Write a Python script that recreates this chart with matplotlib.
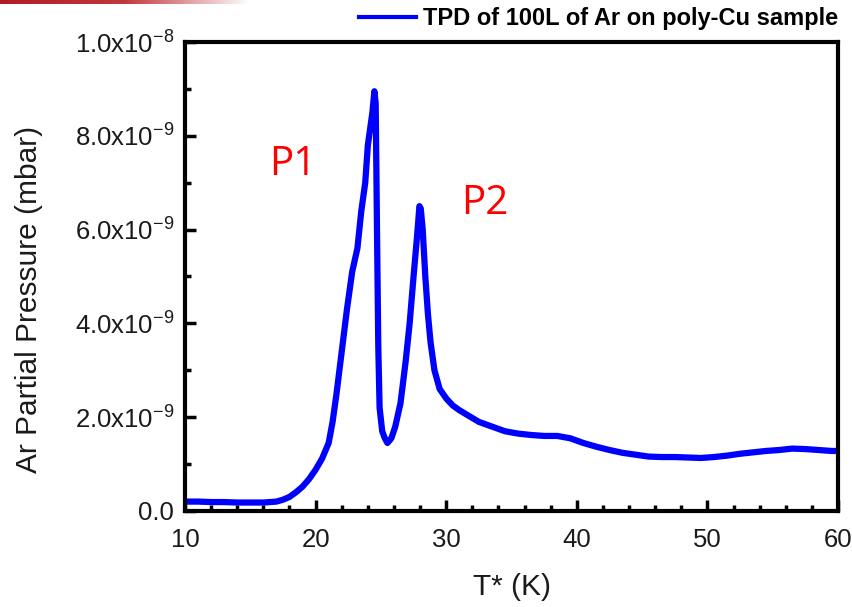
import numpy as np
import matplotlib
matplotlib.use("Agg")
import matplotlib.pyplot as plt
from matplotlib.ticker import FuncFormatter, MultipleLocator
from matplotlib.lines import Line2D

plt.rcParams['font.family'] = ['Liberation Sans', 'DejaVu Sans']
plt.rcParams['mathtext.default'] = 'regular'

# temperature (K) and Ar partial pressure (units of 1e-9 mbar)
temperature = [10, 11, 12, 13, 14, 15, 16, 17, 17.5, 18, 18.5, 19, 19.5, 20, 20.5,
               21, 21.3, 21.6, 22, 22.4, 22.8, 23.2, 23.5, 23.8, 24.0, 24.2, 24.35,
               24.5, 24.6, 24.7, 24.8, 24.9, 25.1, 25.3, 25.5, 25.8, 26.1, 26.5,
               26.9, 27.2, 27.5, 27.75, 27.95, 28.05, 28.2, 28.4, 28.6, 28.8, 29.1,
               29.5, 30, 30.5, 31, 31.6, 32.5, 33.5, 34.5, 35.5, 36.5, 37.5, 38.5,
               39.5, 40.5, 41.5, 42.5, 43.5, 44.5, 45.5, 46.5, 47.5, 48.5, 49.5,
               50.5, 51.5, 52.5, 53.5, 54.5, 55.5, 56.5, 57.5, 58.5, 59.5, 60]
pressure = [0.20, 0.20, 0.19, 0.19, 0.18, 0.18, 0.18, 0.20, 0.24, 0.30, 0.40, 0.52,
            0.68, 0.88, 1.12, 1.45, 1.90, 2.50, 3.40, 4.30, 5.10, 5.60, 6.40, 7.00,
            7.80, 8.20, 8.50, 8.95, 8.70, 6.00, 3.50, 2.20, 1.70, 1.55, 1.45, 1.55,
            1.80, 2.30, 3.20, 4.00, 5.00, 5.80, 6.50, 6.45, 6.00, 5.00, 4.20, 3.60,
            3.00, 2.60, 2.40, 2.25, 2.15, 2.05, 1.90, 1.80, 1.70, 1.65, 1.62, 1.60,
            1.60, 1.55, 1.45, 1.37, 1.30, 1.24, 1.20, 1.16, 1.15, 1.15, 1.14, 1.13,
            1.15, 1.18, 1.22, 1.25, 1.28, 1.30, 1.33, 1.32, 1.30, 1.28, 1.28]

legend_label = "TPD of 100L of Ar on poly-Cu sample"
peak_labels = ["P1", "P2"]


def sci_fmt(v, pos):
    if abs(v) < 1e-15:
        return "0.0"
    exp = int(np.floor(np.log10(abs(v)) + 1e-9))
    mant = v / 10 ** exp
    return "%.1fx10$^{%d}$" % (mant, exp)


fig = plt.figure(figsize=(8.53, 6.07), dpi=100)
ax = fig.add_axes([0.2169, 0.1582, 0.7655, 0.7726])

ax.plot(temperature, np.array(pressure) * 1e-9, color="#0000ff", lw=4.5,
        solid_joinstyle="round", solid_capstyle="round")

ax.set_xlim(10, 60)
ax.set_ylim(0, 1e-8)
ax.xaxis.set_major_locator(MultipleLocator(10))
ax.xaxis.set_minor_locator(MultipleLocator(2))
ax.yaxis.set_major_locator(MultipleLocator(2e-9))
ax.yaxis.set_minor_locator(MultipleLocator(1e-9))
ax.yaxis.set_major_formatter(FuncFormatter(sci_fmt))

for sp in ax.spines.values():
    sp.set_linewidth(3)
ax.tick_params(which="both", direction="in", width=2.5, top=False, right=False,
               labelsize=18.5, colors="black")
ax.tick_params(which="major", length=8)
ax.tick_params(which="minor", length=4)
ax.tick_params(axis="x", pad=12)
ax.tick_params(axis="y", pad=8)
for lab in ax.get_xticklabels() + ax.get_yticklabels():
    lab.set_color("#1a1a1a")

ax.set_xlabel("T* (K)", fontsize=21.5, color="#1a1a1a")
ax.set_ylabel("Ar Partial Pressure (mbar)", fontsize=21.5, color="#1a1a1a")
ax.xaxis.set_label_coords(0.5, -0.132)
ax.yaxis.set_label_coords(-0.217, 0.45)

# peak annotations
fig.text(269 / 853, 1 - 165 / 607, peak_labels[0], color="red", fontsize=29,
         family="Open Sans", va="center", ha="left")
fig.text(461 / 853, 1 - 204 / 607, peak_labels[1], color="red", fontsize=29,
         family="Open Sans", va="center", ha="left")

# legend above the frame
fig.legend([Line2D([], [], color="#0000ff", lw=3)], [legend_label],
           loc="center right", bbox_to_anchor=(838 / 853, 1 - 19 / 607),
           frameon=False, handlelength=2.4, handletextpad=0.3,
           borderaxespad=0, borderpad=0,
           prop={"weight": "bold", "size": 17})

# slide decoration strip at the top left
deco = fig.add_axes([0, 1 - 4 / 607, 250 / 853, 4 / 607])
deco.imshow(np.linspace(0, 1, 256)[None, :], aspect="auto",
            cmap=matplotlib.colors.LinearSegmentedColormap.from_list(
                "strip", ["#b01c24", "#c0383d", "#ffffff"]))
deco.axis("off")

fig.savefig("out.png", dpi=100)
